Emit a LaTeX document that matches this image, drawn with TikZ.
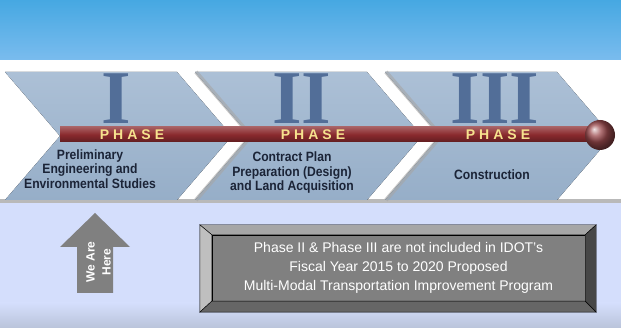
\documentclass[tikz,border=0pt]{standalone}
\usepackage{fontspec}
\setmainfont{Liberation Sans}
\newfontfamily\numeralfont{Liberation Serif}
\newfontfamily\narrowfont[FakeStretch=0.9]{Liberation Sans}
\usetikzlibrary{positioning, calc}
\definecolor{bandtop}{RGB}{70, 168, 226}
\definecolor{bandbot}{RGB}{122, 188, 238}
\definecolor{chevtop}{RGB}{172, 192, 214}
\definecolor{chevbot}{RGB}{150, 174, 200}
\definecolor{numblue}{RGB}{82, 110, 152}
\definecolor{barred}{RGB}{138, 42, 46}
\definecolor{phaseyel}{RGB}{246, 226, 142}
\definecolor{labeldark}{RGB}{27, 36, 55}
\definecolor{lavender}{RGB}{212, 222, 252}
\definecolor{lavenderdk}{RGB}{186, 196, 218}
\definecolor{arrowgray}{RGB}{128, 128, 128}
\newcommand{\phaseword}{P\kern4pt H\kern4pt A\kern4pt S\kern4pt E}

\begin{document}
\begin{tikzpicture}[x=1pt, y=-1pt,
    chev/.style={top color=chevtop, bottom color=chevbot},
    edgeshade/.style={draw=gray!70, opacity=0.6, line width=4pt, line join=miter},
    numeral/.style={font=\numeralfont\bfseries\fontsize{76}{76}\selectfont,
                    text=numblue, inner sep=0, anchor=base},
    phasetag/.style={font=\bfseries\fontsize{14}{14}\selectfont,
                     text=phaseyel, inner sep=0, anchor=base},
    steplabel/.style={font=\narrowfont\bfseries\fontsize{13.5}{14.5}\selectfont,
                      text=labeldark, align=center, inner sep=0},
    bevel/.style={draw=black, line width=0.4pt}
  ]
    \useasboundingbox (0,0) rectangle (621,328);
    % top band and lower panel
    \shade[top color=bandtop, bottom color=bandbot] (0,0) rectangle (621,60);
    \fill[lavender] (0,202) rectangle (621,328);
    \shade[top color=lavender, bottom color=lavenderdk] (0,303) rectangle (621,328);
    \fill[gray!55] (0,199) rectangle (621,203);

    % the three chevrons
    \fill[chev] (5,72) -- (177,72) -- (232,136) -- (177,200) -- (5,200)
      -- (60,136) -- cycle;
    \fill[chev] (195,72) -- (367,72) -- (422,136) -- (367,200) -- (195,200)
      -- (250,136) -- cycle;
    \fill[chev] (385,72) -- (557,72) -- (612,136) -- (557,200) -- (385,200)
      -- (440,136) -- cycle;
    \draw[edgeshade] ([xshift=1pt]195,72) -- ([xshift=1pt]250,136) -- ([xshift=1pt]195,200);
    \draw[edgeshade] ([xshift=1pt]385,72) -- ([xshift=1pt]440,136) -- ([xshift=1pt]385,200);

    \node[numeral] (numI) at (116,124) {I};
    \node[numeral] (numII) at (302,124) {II};
    \node[numeral] (numIII) at (495,124) {III};

    % timeline bar
    \shade[top color=barred!75!white, bottom color=barred!70!black,
           middle color=barred] (60,127) rectangle (600,142);
    \shade[ball color=barred!85!white] (600,135) circle[radius=15pt];

    \node[phasetag] (tagI) at (132,140) {\phaseword};
    \node[phasetag] (tagII) at (313,140) {\phaseword};
    \node[phasetag] (tagIII) at (498,140) {\phaseword};

    \node[steplabel] (labI) at (90,169) {Preliminary\\Engineering and\\Environmental Studies};
    \node[steplabel] (labII) at (292,173) {Contract Plan\\Preparation (Design)\\and Land Acquisition};
    \node[steplabel] (labIII) at (492,175) {Construction};

    % we are here
    \fill[arrowgray] (95,213) -- (130,247) -- (113,247) -- (113,293) -- (77,293)
      -- (77,247) -- (60,247) -- cycle;
    \node[rotate=90, text=white, align=center, inner sep=0,
          font=\bfseries\fontsize{12}{16}\selectfont] (here) at (98.5,262)
      {We Are\\Here};

    % bevelled note
    \node[fill=arrowgray, draw=black, line width=0.4pt, text=white, align=center,
          minimum width=373pt, minimum height=66pt, inner sep=0,
          font=\fontsize{14}{19}\selectfont] (note) at (398.5,268)
      {Phase II \& Phase III are not included in IDOT’s\\
       Fiscal Year 2015 to 2020 Proposed\\
       Multi-Modal Transportation Improvement Program};
    \node[minimum width=396pt, minimum height=87pt, inner sep=0] (frame)
      at (398,268.5) {};
    \filldraw[bevel, fill=gray!70] (frame.north west) -- (frame.north east)
      -- (note.north east) -- (note.north west) -- cycle;
    \filldraw[bevel, fill=gray!50] (frame.north west) -- (note.north west)
      -- (note.south west) -- (frame.south west) -- cycle;
    \filldraw[bevel, fill=black!72] (frame.north east) -- (frame.south east)
      -- (note.south east) -- (note.north east) -- cycle;
    \filldraw[bevel, fill=black!60] (frame.south west) -- (frame.south east)
      -- (note.south east) -- (note.south west) -- cycle;
  \end{tikzpicture}
\end{document}
